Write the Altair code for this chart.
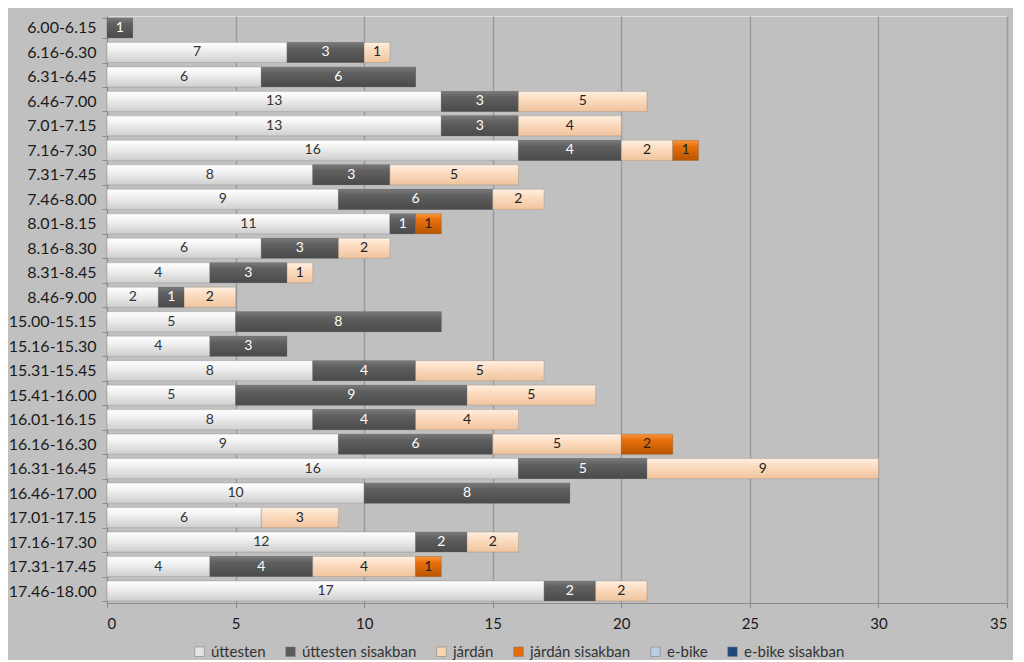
import altair as alt
import pandas as pd

categories = ["6.00-6.15", "6.16-6.30", "6.31-6.45", "6.46-7.00", "7.01-7.15", "7.16-7.30",
              "7.31-7.45", "7.46-8.00", "8.01-8.15", "8.16-8.30", "8.31-8.45", "8.46-9.00",
              "15.00-15.15", "15.16-15.30", "15.31-15.45", "15.41-16.00", "16.01-16.15",
              "16.16-16.30", "16.31-16.45", "16.46-17.00", "17.01-17.15", "17.16-17.30",
              "17.31-17.45", "17.46-18.00"]
series_names = ["úttesten", "úttesten sisakban", "járdán", "járdán sisakban", "e-bike", "e-bike sisakban"]
uttesten = [0, 7, 6, 13, 13, 16, 8, 9, 11, 6, 4, 2, 5, 4, 8, 5, 8, 9, 16, 10, 6, 12, 4, 17]
uttesten_sisakban = [1, 3, 6, 3, 3, 4, 3, 6, 1, 3, 3, 1, 8, 3, 4, 9, 4, 6, 5, 8, 0, 2, 4, 2]
jardan = [0, 1, 0, 5, 4, 2, 5, 2, 0, 2, 1, 2, 0, 0, 5, 5, 4, 5, 9, 0, 3, 2, 4, 2]
jardan_sisakban = [0, 0, 0, 0, 0, 1, 0, 0, 1, 0, 0, 0, 0, 0, 0, 0, 0, 2, 0, 0, 0, 0, 1, 0]
ebike = [0] * 24
ebike_sisakban = [0] * 24
colors = ["#e4e4e4", "#5a5a5a", "#fcd5b4", "#e46c0a", "#b9cde5", "#1f497d"]
gradients = [
    ["#ffffff", "#f4f4f4", "#cfcfcf"],
    ["#7a7a7a", "#606060", "#4a4a4a"],
    ["#fff0e2", "#fde0c6", "#f0c49e"],
    ["#f8963a", "#e8700c", "#b85500"],
]
text_colors = ["#333333", "#ffffff", "#222222", "#222222", "#222222", "#ffffff"]

all_vals = [uttesten, uttesten_sisakban, jardan, jardan_sisakban, ebike, ebike_sisakban]
rows = []
for si, (name, vals) in enumerate(zip(series_names, all_vals)):
    for ci, cat in enumerate(categories):
        rows.append({"cat": cat, "series": name, "value": vals[ci], "order": si,
                     "tcolor": text_colors[si]})
df = pd.DataFrame(rows)

base = alt.Chart(df).transform_stack(
    stack="value", groupby=["cat"], as_=["x0", "x1"],
    sort=[alt.SortField("order", order="ascending")]
)

y_enc = alt.Y("cat:N", sort=categories, title=None,
              scale=alt.Scale(paddingInner=0.18, paddingOuter=0.08),
              axis=alt.Axis(labelFontSize=16, labelColor="#1a1a1a", labelFont="Lato",
                            domainColor="#8a8a8a", tickColor="#8a8a8a", tickBand="extent",
                            tickSize=5, labelPadding=6, minExtent=97, maxExtent=97))
x_enc = alt.X("x0:Q", title=None, scale=alt.Scale(domain=[0, 35]),
              axis=alt.Axis(values=[0, 5, 10, 15, 20, 25, 30, 35], labelFontSize=15,
                            labelColor="#1a1a1a", labelFont="Lato", grid=True,
                            gridColor="#9a9a9a", gridWidth=1.5, domainColor="#8a8a8a",
                            tickColor="#8a8a8a", tickSize=5, labelPadding=8))

legend_layer = base.mark_bar().encode(
    y=y_enc, x=x_enc, x2="x1:Q",
    color=alt.Color("series:N", scale=alt.Scale(domain=series_names, range=colors),
                    legend=alt.Legend(title=None, orient="none", direction="horizontal",
                                      legendX=85, legendY=628, symbolType="square",
                                      symbolSize=90, symbolStrokeColor="#777",
                                      symbolStrokeWidth=0.5, labelFontSize=15,
                                      labelFont="Lato", labelColor="#333333",
                                      columnPadding=17, labelOffset=4)),
)

layers = [legend_layer]
for si in range(4):
    g = gradients[si]
    lay = base.transform_filter(
        (alt.datum.order == si) & (alt.datum.value > 0)
    ).mark_bar(
        color=alt.Gradient(gradient="linear", x1=0, x2=0, y1=0, y2=1,
                           stops=[alt.GradientStop(offset=0, color=g[0]),
                                  alt.GradientStop(offset=0.3, color=g[1]),
                                  alt.GradientStop(offset=1, color=g[2])]),
        stroke="#6f6f6f", strokeWidth=0.6, strokeOpacity=0.5
    ).encode(y=alt.Y("cat:N", sort=categories), x="x0:Q", x2="x1:Q")
    layers.append(lay)

text = base.transform_filter(alt.datum.value > 0).transform_calculate(
    mid="(datum.x0 + datum.x1) / 2"
).mark_text(fontSize=14, font="Lato").encode(
    y=alt.Y("cat:N", sort=categories),
    x=alt.X("mid:Q"),
    text="value:Q",
    color=alt.Color("tcolor:N", scale=None),
)
layers.append(text)

chart = alt.layer(*layers).properties(
    width=900, height=587, background="#c0c0c0"
).configure_view(stroke=None, fill="#c0c0c0").configure(padding={"left": 0, "top": 0, "right": 5, "bottom": 0})

chart.save("out.html", embed_options={"renderer": "svg", "actions": False})
